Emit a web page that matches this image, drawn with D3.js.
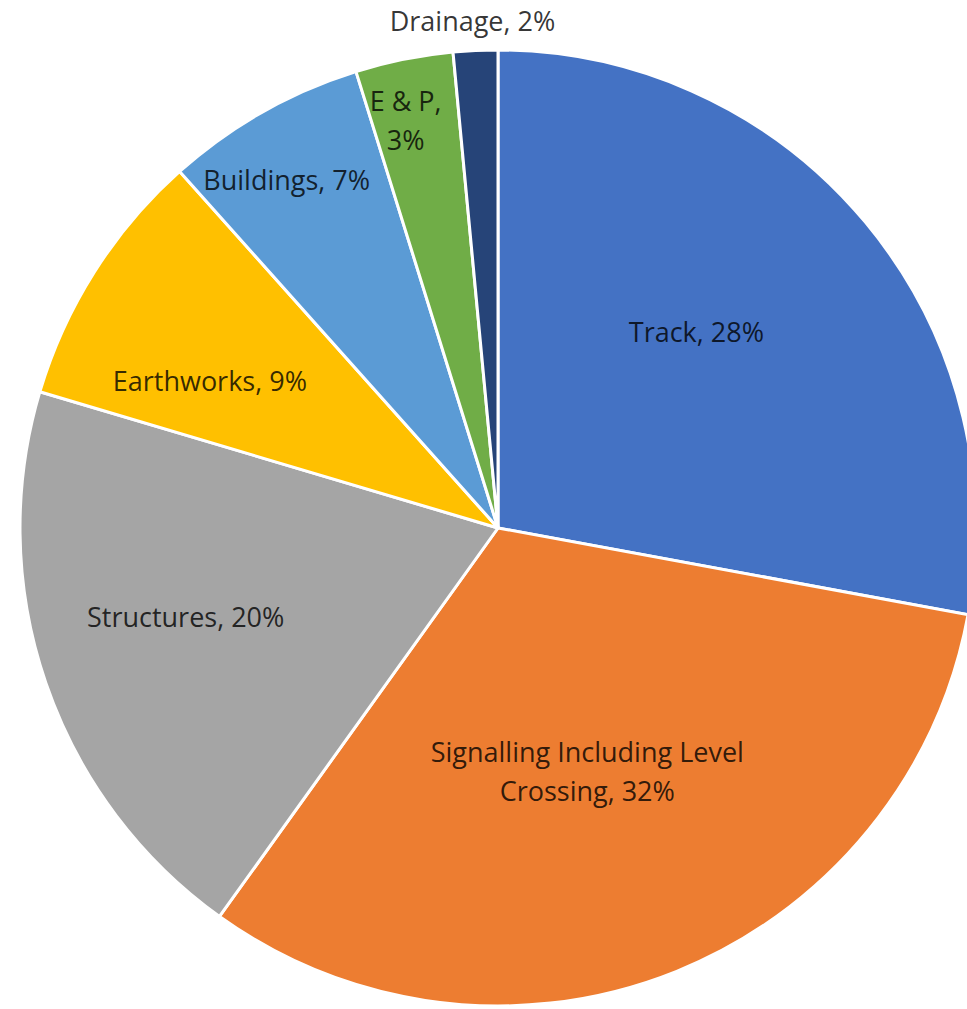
<!DOCTYPE html>
<html>
<head>
<meta charset="utf-8">
<script src="https://cdn.jsdelivr.net/npm/d3@7"></script>
<style>
  body { margin: 0; background: #fff; }
</style>
</head>
<body>
<div id="chart-area"></div>
<script>
// slice data, clockwise from 12 o'clock
var categories = ["Track", "Signalling Including Level Crossing", "Structures", "Earthworks", "Buildings", "E & P", "Drainage"];
var shares = [27.9, 32.0, 19.7, 8.8, 6.8, 3.3, 1.5];
var colors = ["#4472C4", "#ED7D31", "#A5A5A5", "#FFC000", "#5B9BD5", "#70AD47", "#264478"];

// label wrap widths and nudges (pixels) from the label arc centroid
var wrapWidth = [0, 350, 0, 0, 0, 90, 0];
var nudge = [[-22, -12], [-18, -22], [-41, -3], [-46, 7], [-70, -98], [-36, -126], [-12, -220]];

var width = 967, height = 1009;
var cx = 498, cy = 528, radius = 478;
var fontSize = 27, lineHeight = 39;

var data = categories.map((c, i) => ({ name: c, value: shares[i], color: colors[i], i: i }));

var svg = d3.select("#chart-area")
  .append("svg")
  .attr("width", width)
  .attr("height", height);

var g = svg.append("g")
  .attr("transform", "translate(" + cx + ", " + cy + ")");

var pie = d3.pie()
  .sort(null)
  .value(d => d.value);

var arc = d3.arc()
  .innerRadius(0)
  .outerRadius(radius);

var labelArc = d3.arc()
  .innerRadius(radius * 0.6)
  .outerRadius(radius * 0.6);

var arcs = pie(data);

g.selectAll("path")
  .data(arcs)
  .enter().append("path")
  .attr("d", arc)
  .attr("fill", d => d.data.color)
  .attr("stroke", "#fff")
  .attr("stroke-width", 3)
  .attr("stroke-linejoin", "round");

function wrapLines(text, maxW, measure) {
  if (!maxW) return [text];
  var words = text.split(" ");
  var lines = [];
  var cur = "";
  words.forEach(w => {
    var test = cur ? cur + " " + w : w;
    if (cur && measure(test) > maxW) {
      lines.push(cur);
      cur = w;
    } else {
      cur = test;
    }
  });
  if (cur) lines.push(cur);
  return lines;
}

var measurer = svg.append("text")
  .attr("font-family", "'Open Sans', sans-serif")
  .attr("font-size", fontSize + "px")
  .attr("visibility", "hidden");
function measure(s) {
  measurer.text(s);
  return measurer.node().getComputedTextLength();
}

var labels = g.selectAll("text.label")
  .data(arcs)
  .enter().append("text")
  .attr("class", "label")
  .attr("text-anchor", "middle")
  .attr("font-family", "'Open Sans', sans-serif")
  .attr("font-size", fontSize + "px")
  .attr("fill", "#000")
  .attr("fill-opacity", 0.8);

labels.each(function(d) {
  var i = d.data.i;
  var label = d.data.name + ", " + Math.round(d.data.value) + "%";
  var lines = wrapLines(label, wrapWidth[i], measure);
  var c = labelArc.centroid(d);
  var x = c[0] + nudge[i][0];
  var y = c[1] + nudge[i][1];
  var top = y - (lines.length - 1) * lineHeight / 2 + fontSize * 0.35;
  var t = d3.select(this);
  lines.forEach((ln, k) => {
    t.append("tspan")
      .attr("x", x)
      .attr("y", top + k * lineHeight)
      .text(ln);
  });
});

measurer.remove();
</script>
</body>
</html>
